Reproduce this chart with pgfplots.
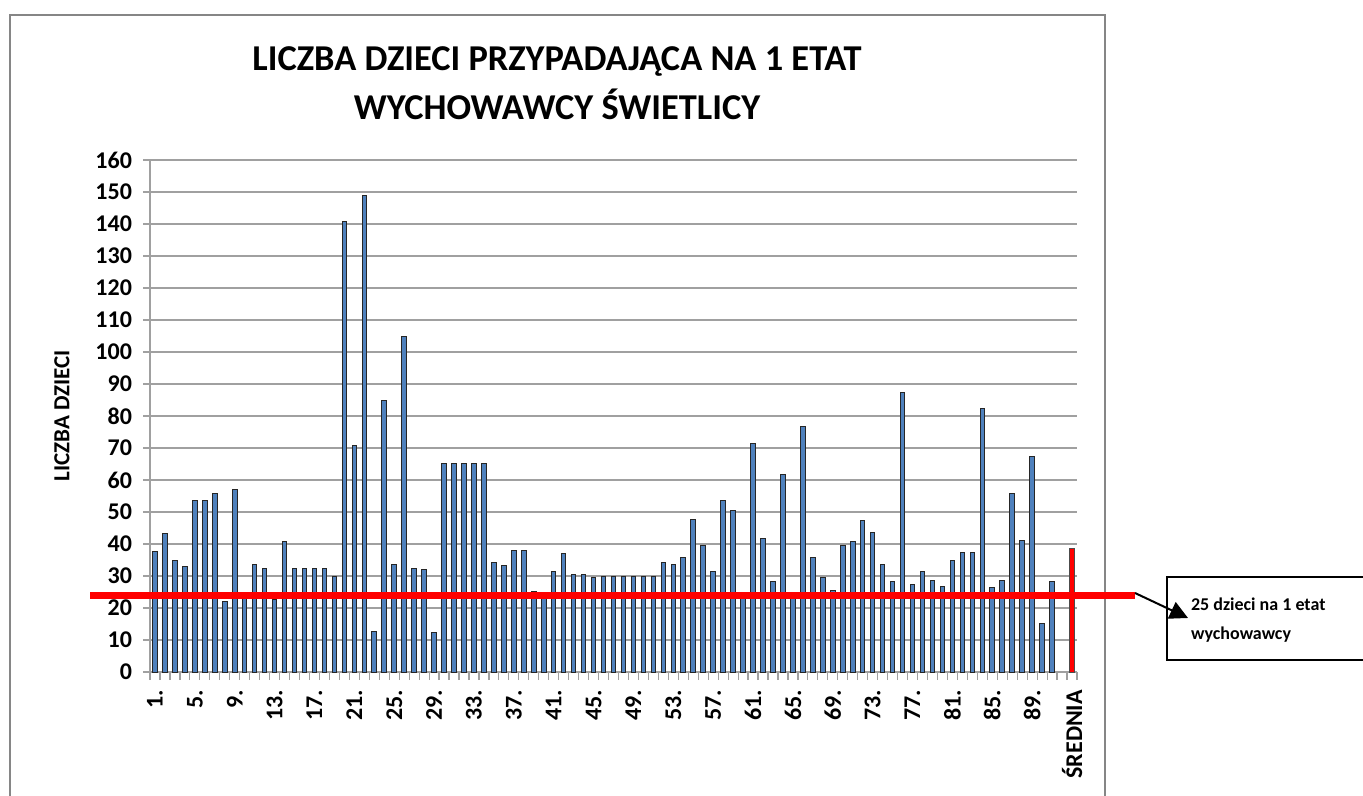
\documentclass[border=0pt]{standalone}
\usepackage{fontspec}
\setmainfont{Carlito}
\usepackage{pgfplots}
\pgfplotsset{compat=1.18}
\usetikzlibrary{arrows.meta}
\definecolor{barblue}{RGB}{79,129,189}
\definecolor{gridgray}{RGB}{160,160,160}
\definecolor{framegray}{RGB}{134,134,134}

\begin{document}
\begin{tikzpicture}
% page: 1363 x 796 px at 0.5pt per px
\path[use as bounding box] (0,0) rectangle (681.5pt,-398pt);
\draw[framegray, line width=0.8pt] (5pt,-402pt) -- (5pt,-7.5pt) -- (552.5pt,-7.5pt) -- (552.5pt,-402pt);
\node[font=\fontsize{18.2}{22}\selectfont\bfseries] at (278.5pt,-31pt) {LICZBA DZIECI PRZYPADAJĄCA NA 1 ETAT};
\node[font=\fontsize{18.2}{22}\selectfont\bfseries] at (278.5pt,-52pt) {WYCHOWAWCY ŚWIETLICY};

\begin{axis}[
    at={(75pt,-336pt)}, anchor=south west,
    width=463.5pt, height=256pt, scale only axis,
    xmin=0.5, xmax=93.5, ymin=0, ymax=160,
    axis x line*=bottom, axis y line*=left,
    axis line style={-, draw=gridgray, line width=0.8pt},
    ytick={0,10,...,160},
    xtick={1,5,...,93},
    xticklabels={1.,5.,9.,13.,17.,21.,25.,29.,33.,37.,41.,45.,49.,53.,57.,61.,65.,69.,73.,77.,81.,85.,89.,ŚREDNIA},
    minor xtick={0.5,1.5,...,93.5},
    tick align=outside,
    major x tick style={draw=none},
    minor x tick style={draw=gridgray, line width=0.6pt},
    major y tick style={draw=gridgray, line width=0.6pt},
    major tick length=3.5pt, minor tick length=4pt,
    ymajorgrids, grid style={gridgray, line width=0.7pt},
    /pgf/number format/assume math mode=true,
    yticklabel style={font=\fontsize{12}{14}\selectfont\bfseries},
    yticklabel shift=2pt,
    xticklabel style={font=\fontsize{12}{14}\selectfont\bfseries, rotate=90, anchor=east},
    xticklabel shift=2pt,
    ylabel={LICZBA DZIECI},
    ylabel style={font=\fontsize{11.5}{13}\selectfont\bfseries, at={(axis description cs:-0.095,0.5)}, anchor=center},
    clip=false,
]
\addplot[ybar, bar width=0.46, bar shift=0pt, fill=barblue, draw=black!85, line width=0.5pt] table {
x y
1 37.6
2 43.3
3 34.8
4 32.9
5 53.7
6 53.7
7 55.7
8 21.9
9 56.9
10 23.2
11 33.7
12 32.4
13 22.7
14 40.8
15 32.4
16 32.4
17 32.4
18 32.4
19 30.0
20 140.8
21 70.9
22 148.9
23 12.8
24 85.0
25 33.7
26 105.0
27 32.4
28 32.0
29 12.4
30 65.3
31 65.3
32 65.3
33 65.3
34 65.3
35 34.3
36 33.2
37 38.0
38 38.0
39 25.3
40 24.0
41 31.5
42 37.1
43 30.4
44 30.4
45 29.6
46 29.9
47 29.9
48 29.9
49 29.9
50 29.9
51 29.9
52 34.3
53 33.6
54 35.7
55 47.8
56 39.6
57 31.5
58 53.6
59 50.4
60 24.0
61 71.3
62 41.6
63 28.3
64 61.6
65 24.0
66 76.8
67 35.7
68 29.6
69 25.6
70 39.6
71 40.8
72 47.2
73 43.6
74 33.7
75 28.3
76 87.4
77 27.2
78 31.5
79 28.7
80 26.7
81 34.8
82 37.2
83 37.2
84 82.2
85 26.4
86 28.7
87 55.7
88 41.2
89 67.3
90 15.1
91 28.3
};
\addplot[ybar, bar width=0.46, bar shift=0pt, fill=red, draw=black!70, line width=0.5pt] table {
x y
93 38.5
};
\draw[red, line width=3.6pt] (axis cs:-5.5,24) -- (axis cs:99.3,24);
\end{axis}

\draw[black, line width=1pt, -{Triangle[length=9pt,width=9pt]}] (567.5pt,-296.5pt) -- (594pt,-309pt);
\draw[black, line width=1pt] (583.5pt,-288.5pt) rectangle (690pt,-330pt);
\node[anchor=west, align=left, font=\fontsize{9}{14.5}\selectfont\bfseries] at (592pt,-310pt) {25 dzieci na 1 etat\\wychowawcy};
\end{tikzpicture}
\end{document}
